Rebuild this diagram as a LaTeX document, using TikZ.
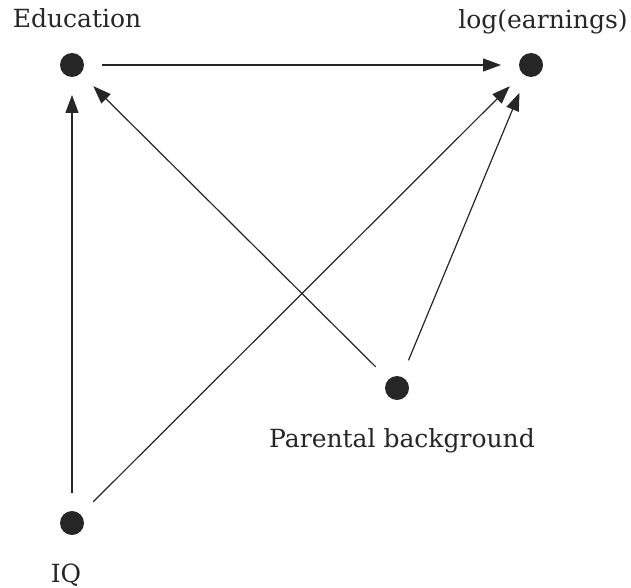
\documentclass[tikz,border=0pt]{standalone}
\usepackage{fontspec}
\setmainfont{DejaVu Serif}
\usetikzlibrary{positioning, arrows.meta}

\begin{document}
\begin{tikzpicture}[
        x=1pt, y=-1pt,
        dot/.style={circle, fill=black!85, minimum size=24pt, inner sep=0pt, outer sep=18pt},
        lbl/.style={anchor=base, text=black!85, font=\fontsize{25}{28}\selectfont},
        line/.style={draw=black!85, line width=1.2pt, -{Triangle[length=18pt, width=13pt]}}
    ]
        \useasboundingbox (0,0) rectangle (631,588);

        % Variables
        \node[dot] (Edu) at (72,65) {};
        \node[dot] (Earn) at (531,65) {};
        \node[dot] (Parent) at (397,388) {};
        \node[dot] (IQ) at (72,523) {};

        % Labels
        \node[lbl] (EduLabel) at (77,28) {Education};
        \node[lbl] (EarnLabel) at (543,29) {log(earnings)};
        \node[lbl] (ParentLabel) at (402,447) {Parental background};
        \node[lbl] (IQLabel) at (66,582) {IQ};

        % Arrows
        \draw[line] (Edu) -- (Earn);
        \draw[line] (IQ) -- (Edu);
        \draw[line] (IQ) -- (Earn);
        \draw[line] (Parent) -- (Edu);
        \draw[line] (Parent) -- (Earn);

    \end{tikzpicture}
\end{document}
